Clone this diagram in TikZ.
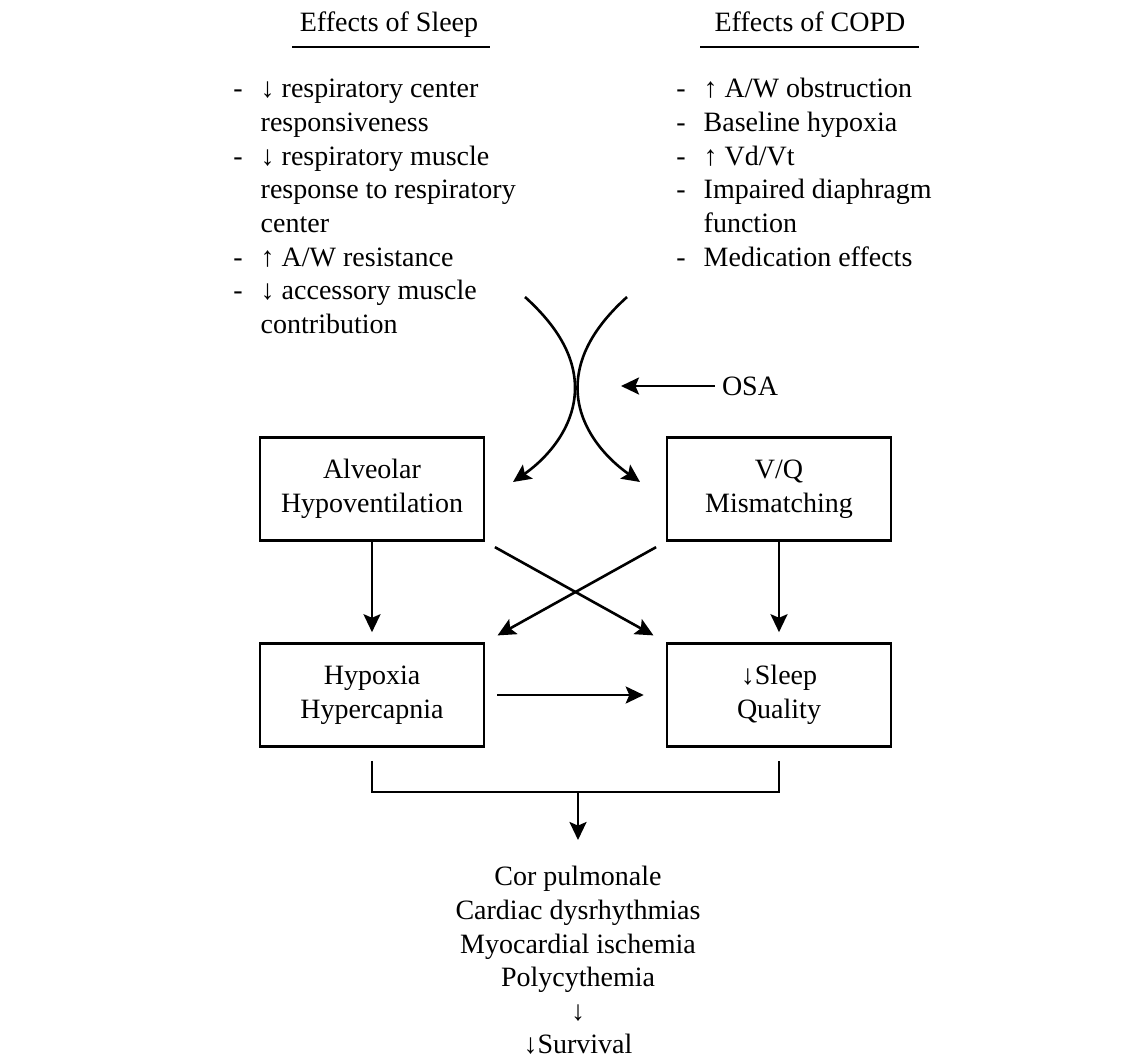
\documentclass[tikz,border=0pt]{standalone}
\usepackage{fontspec}
\setmainfont{Liberation Serif}
\usetikzlibrary{arrows.meta}

\tikzset{
  box/.style={draw, line width=1.3pt, minimum width=112pt, minimum height=51.5pt, align=center},
  flow/.style={line width=1.3pt, -{Stealth[length=9pt,width=8.5pt,inset=1.8pt]}},
  rule/.style={line width=1.4pt},
}

\begin{document}
\begin{tikzpicture}[x=0.5pt, y=-0.5pt, font=\fontsize{14}{16.8}\selectfont]
  \useasboundingbox (0,0) rectangle (1143,1059);

  % headings
  \node (hdsleep) [anchor=base] at (389,32) {Effects of Sleep};
  \node (hdcopd) [anchor=base] at (810,32) {Effects of COPD};
  \draw[rule] (292,47) -- (490,47);
  \draw[rule] (700,47) -- (919,47);

  % lists
  \node (sleeplist) [anchor=base west, inner sep=0pt] at (233,98) {%
    \begin{tabular}[t]{@{}l@{\hspace{9pt}}l@{}}
    - & ↓ respiratory center\\
      & responsiveness\\
    - & ↓ respiratory muscle\\
      & response to respiratory\\
      & center\\
    - & ↑ A/W resistance\\
    - & ↓ accessory muscle\\
      & contribution
    \end{tabular}};
  \node (copdlist) [anchor=base west, inner sep=0pt] at (676,98) {%
    \begin{tabular}[t]{@{}l@{\hspace{9pt}}l@{}}
    - & ↑ A/W obstruction\\
    - & Baseline hypoxia\\
    - & ↑ Vd/Vt\\
    - & Impaired diaphragm\\
      & function\\
    - & Medication effects
    \end{tabular}};

  % converging curves
  \coordinate (lstart) at (525,297);
  \coordinate (rstart) at (627,297);
  \coordinate (ltip) at (513,482);
  \coordinate (rtip) at (640,482);
  \draw[flow] (lstart) .. controls (556,325) and (575,355) .. (575,388)
                       .. controls (575,425) and (550,456) .. (ltip);
  \draw[flow] (rstart) .. controls (596,325) and (577.5,355) .. (577.5,388)
                       .. controls (577.5,425) and (603,456) .. (rtip);

  \node (osa) at (750,386) {OSA};
  \coordinate (osatip) at (621,386);
  \draw[flow] (osa) -- (osatip);

  % boxes
  \node (alv) [box] at (372,489) {Alveolar\\Hypoventilation};
  \node (vq) [box] at (779,489) {V/Q\\Mismatching};
  \node (hyp) [box] at (372,695) {Hypoxia\\Hypercapnia};
  \node (slq) [box] at (779,695) {↓Sleep\\Quality};

  \draw[flow, shorten >=5pt] (alv) -- (hyp);
  \draw[flow, shorten >=5pt] (vq) -- (slq);
  \draw[flow, shorten <=5.5pt, shorten >=7pt] (alv.south east) -- (slq.north west);
  \draw[flow, shorten <=5.5pt, shorten >=7pt] (vq.south west) -- (hyp.north east);
  \draw[flow, shorten <=6pt, shorten >=11pt] (hyp) -- (slq);

  % bracket and outcome
  \coordinate (join) at (578,792);
  \draw[line width=1.3pt] ([yshift=-6.5pt]hyp.south) |- (join) -| ([yshift=-6.5pt]slq.south);
  \node (outcome) [anchor=north, align=center, inner sep=0pt] at (578,866)
    {Cor pulmonale\\Cardiac dysrhythmias\\Myocardial ischemia\\Polycythemia\\↓\\↓Survival};
  \draw[flow, shorten >=13pt] (join) -- (outcome.north);
\end{tikzpicture}
\end{document}
